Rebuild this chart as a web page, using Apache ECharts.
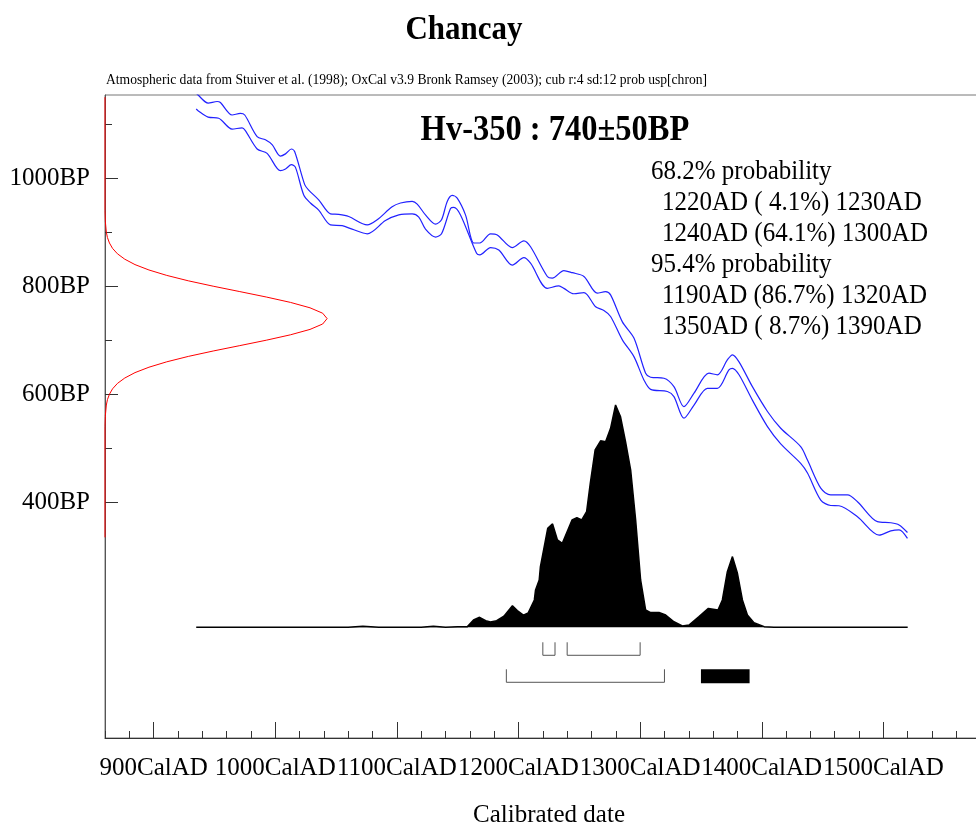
<!DOCTYPE html>
<html>
<head>
<meta charset="utf-8">
<script src="https://cdn.jsdelivr.net/npm/echarts@6/dist/echarts.min.js"></script>
<style>
  html, body { margin: 0; padding: 0; background: #fff; }
  #chart { width: 976px; height: 825px; }
</style>
</head>
<body>
<div id="chart"></div>
<script>
// calendar axis ticks (years AD) and BP axis ticks
var yearMajor = [900, 1000, 1100, 1200, 1300, 1400, 1500];
var bpMajor = [400, 600, 800, 1000];
var bpMinor = [500, 700, 900, 1100];

// calibration curve, +1 sigma and -1 sigma  [year AD, BP]
var calUpper = [[933,1162],[936.5,1154],[944.8,1139],[952.2,1142],[954.9,1140],[964.5,1117],[971.3,1120],[974.9,1117],
  [985.1,1077],[991.9,1071],[997.4,1062],[1004.2,1041],[1008.4,1045],[1013.3,1054],[1016,1049],[1024.2,988],
  [1027.5,978],[1035.7,960],[1045.4,934],[1052.2,933],[1060.4,929],[1075.6,913.5],[1083.8,923],[1096.1,947],
  [1103,954],[1112.6,957],[1116.7,952],[1123.5,932],[1131.8,915],[1136.7,923],[1141.4,957],[1145.5,968],
  [1149.6,963],[1156.4,932],[1163.3,880],[1168.2,880],[1177,897],[1182.5,895],[1194.9,871.5],[1204.4,884],
  [1209.9,873],[1223.7,818],[1227.8,815],[1237.3,829],[1244.2,825],[1253.8,818],[1264.8,787],[1271.6,790],
  [1275.7,784],[1285.4,734],[1294.9,704],[1304.5,639],[1308.6,631.5],[1319.6,629.6],[1327.8,614],[1336,577],
  [1344.3,602],[1356.6,639],[1363.5,636],[1371.7,663.5],[1375.9,673],[1381.3,660],[1392.3,614],[1404.7,568],
  [1415.6,537],[1432,503],[1437.6,478],[1448.5,426],[1456.7,413.5],[1470.5,413.5],[1478.7,401],[1495.1,364],
  [1506.1,362],[1512.9,358],[1519.8,344]];
var calLower = [[935,1128],[936.5,1125],[944.8,1113],[953.5,1111],[964.5,1091],[972.7,1093],[975.4,1088],[985.1,1054],
  [993.3,1046],[1004.2,1014],[1008.4,1017],[1013.3,1025],[1016.6,1020],[1023.4,969],[1028.9,954],[1035.7,941],
  [1045.4,913.5],[1055,912],[1063.2,905.6],[1075.6,897],[1090.6,921.5],[1101.6,932],[1112.6,934],[1118,928],
  [1123.5,905.6],[1131.8,891],[1136.7,897],[1144.1,944],[1146.8,946],[1152.3,932],[1165.5,861],[1168.2,858],
  [1177,871.5],[1183.8,867],[1194.9,839],[1204.4,853],[1209.9,842.6],[1223.7,796],[1233.2,800.6],[1237.3,796],
  [1245.5,786],[1253.8,788],[1263.4,762],[1270.2,755],[1275.7,744],[1285.4,700.6],[1294.9,669.6],[1303.1,626.5],
  [1308.6,609],[1322.4,605],[1327.8,595.6],[1336,555.6],[1344.3,580],[1355.3,611],[1363.5,611],[1373,645],
  [1375.9,648],[1381.3,636],[1392.3,589],[1404.7,540],[1415.6,508],[1432,472],[1437.6,454],[1448.5,404],
  [1456.7,394],[1463.5,393.5],[1478.7,373],[1496.5,339],[1506.1,347],[1512.9,349],[1519.8,333]];

// radiocarbon date Hv-350 : 740±50BP, relative probability vs BP
var dateProb = [[0,335],[0,540],[0.0015,560],[0.006,580],[0.011,590],[0.020,600],[0.034,610],[0.056,620],
  [0.089,630],[0.135,640],[0.198,650],[0.278,660],[0.375,670],[0.487,680],[0.607,690],[0.726,700],[0.835,710],
  [0.923,720],[0.980,730],[1,740],[0.980,750],[0.923,760],[0.835,770],[0.726,780],[0.607,790],[0.487,800],
  [0.375,810],[0.278,820],[0.198,830],[0.135,840],[0.089,850],[0.056,860],[0.034,870],[0.020,880],[0.011,890],
  [0.006,900],[0.0015,920],[0,940],[0,1150]];

// calibrated distribution  [year AD, relative probability]
var calProb = [[935,0],[1060,0],[1072,0.005],[1085,0],[1120,0],[1130,0.005],[1140,0],[1150,0.002],[1158,0.003],
  [1163,0.033],[1168,0.045],[1173,0.03],[1177,0.024],[1182,0.03],[1188,0.05],[1195,0.097],[1199,0.075],
  [1204,0.055],[1208,0.065],[1213,0.123],[1214,0.168],[1217,0.213],[1218,0.273],[1224,0.445],[1228,0.465],
  [1232,0.393],[1236,0.378],[1244,0.483],[1248,0.493],[1252,0.483],[1256,0.52],[1259,0.648],[1263,0.798],
  [1267.5,0.839],[1271.6,0.835],[1275.7,0.895],[1279.8,1],[1283.9,0.947],[1288,0.835],[1292.2,0.708],
  [1296.3,0.483],[1300.4,0.213],[1304.5,0.078],[1308.6,0.066],[1315.5,0.067],[1321,0.055],[1327.8,0.025],
  [1334.7,0.006],[1340.2,0.01],[1348.4,0.048],[1356.1,0.085],[1364,0.078],[1367.6,0.123],[1371.7,0.25],
  [1375.9,0.318],[1380,0.243],[1384.1,0.123],[1388.2,0.055],[1393.6,0.021],[1402,0.003],[1410,0],[1520,0]];

// ranges  [from, to, percent]
var range68 = [[1220, 1230, 4.1], [1240, 1300, 64.1]];
var range95 = [[1190, 1320, 86.7], [1350, 1390, 8.7]];

var serif = '"Liberation Serif", "Times New Roman", serif';

function rangeLine(r) {
    var p = r[2].toFixed(1);
    if (p.length < 4) p = ' ' + p;
    return r[0] + 'AD (' + p + '%) ' + r[1] + 'AD';
}

var probLines = [{t: '68.2% probability', indent: false}]
    .concat(range68.map(function (r) { return {t: rangeLine(r), indent: true}; }))
    .concat([{t: '95.4% probability', indent: false}])
    .concat(range95.map(function (r) { return {t: rangeLine(r), indent: true}; }));

// the original text is drawn slightly taller than wide
var graphics = [
    {type: 'text', x: 464, y: 30, scaleY: 1.12, style: {text: 'Chancay', font: 'bold 31px ' + serif, fill: '#000', textAlign: 'center', textVerticalAlign: 'middle'}},
    {type: 'text', x: 106, y: 80, scaleY: 1.1, style: {text: 'Atmospheric data from Stuiver et al. (1998); OxCal v3.9 Bronk Ramsey (2003); cub r:4 sd:12 prob usp[chron]', font: '13.6px ' + serif, fill: '#000', textVerticalAlign: 'middle'}},
    {type: 'text', x: 555, y: 131, scaleY: 1.1, style: {text: 'Hv-350 : 740\u00b150BP', font: 'bold 32.5px ' + serif, fill: '#000', textAlign: 'center', textVerticalAlign: 'middle'}},
    {type: 'text', x: 549, y: 815, style: {text: 'Calibrated date', font: '25px ' + serif, fill: '#000', textAlign: 'center', textVerticalAlign: 'middle'}}
];
probLines.forEach(function (l, i) {
    graphics.push({type: 'text', x: l.indent ? 662 : 651, y: 172 + i * 31, scaleY: 1.1,
        style: {text: l.t, font: '25px ' + serif, fill: '#000', textVerticalAlign: 'middle'}});
});

var chart = echarts.init(document.getElementById('chart'));

function bracketRender(top, bottom, fillIndex) {
    return function (params, api) {
        var s = api.coord([api.value(0), 0]);
        var e = api.coord([api.value(1), 0]);
        if (params.dataIndex === fillIndex) {
            return {type: 'rect', shape: {x: s[0], y: s[1] + top, width: e[0] - s[0], height: bottom - top + 1},
                style: {fill: '#000'}};
        }
        return {type: 'polyline',
            shape: {points: [[s[0], s[1] + top], [s[0], s[1] + bottom], [e[0], e[1] + bottom], [e[0], e[1] + top]]},
            style: {stroke: '#555', fill: null, lineWidth: 1}};
    };
}

var option = {
    animation: false,
    backgroundColor: '#fff',
    grid: {left: 105, right: -29, top: 95, bottom: 87, show: true, borderColor: '#777', borderWidth: 1,
        containLabel: false, outerBoundsMode: 'none'},
    xAxis: [
        {
            type: 'value', min: 860, max: 1600, position: 'bottom',
            axisLine: {onZero: false, lineStyle: {color: '#333', width: 1}},
            axisTick: {inside: true, length: 16, customValues: yearMajor, lineStyle: {color: '#333'}},
            axisLabel: {customValues: yearMajor, formatter: function (v) { return v + 'CalAD'; },
                margin: 18, fontSize: 25, fontFamily: serif, color: '#000', hideOverlap: false},
            splitLine: {show: false}
        },
        {
            type: 'value', min: 860, max: 1600, interval: 20, position: 'bottom',
            axisLine: {show: false, onZero: false},
            axisTick: {inside: true, length: 7, lineStyle: {color: '#333'}},
            axisLabel: {show: false},
            splitLine: {show: false}
        },
        {type: 'value', min: 0, max: 4.052, show: false}
    ],
    yAxis: [
        {
            type: 'value', min: -36.5, max: 1154, position: 'left',
            axisLine: {onZero: false, lineStyle: {color: '#555', width: 1}},
            axisTick: {inside: true, length: 13, customValues: bpMajor, lineStyle: {color: '#333'}},
            axisLabel: {customValues: bpMajor, formatter: function (v) { return v + 'BP'; },
                margin: 15, fontSize: 25, fontFamily: serif, color: '#000'},
            splitLine: {show: false}
        },
        {
            type: 'value', min: -36.5, max: 1154, position: 'left',
            axisLine: {show: false, onZero: false},
            axisTick: {inside: true, length: 7, customValues: bpMinor, lineStyle: {color: '#333'}},
            axisLabel: {show: false},
            splitLine: {show: false}
        },
        {type: 'value', min: -0.498, max: 2.3945, show: false}
    ],
    graphic: graphics,
    series: [
        {
            name: 'cal+', type: 'line', xAxisIndex: 0, yAxisIndex: 0, data: calUpper,
            symbol: 'none', smooth: 0.3, lineStyle: {color: '#2222ff', width: 1.2}
        },
        {
            name: 'cal-', type: 'line', xAxisIndex: 0, yAxisIndex: 0, data: calLower,
            symbol: 'none', smooth: 0.3, lineStyle: {color: '#2222ff', width: 1.2}
        },
        {
            name: 'date', type: 'line', xAxisIndex: 2, yAxisIndex: 0, data: dateProb,
            symbol: 'none', lineStyle: {color: '#ff0000', width: 1}, z: 5
        },
        {
            name: 'calibrated', type: 'line', xAxisIndex: 0, yAxisIndex: 2, data: calProb,
            symbol: 'none', lineStyle: {color: '#000', width: 1.5},
            areaStyle: {color: '#000', opacity: 1}
        },
        {
            name: '68.2%', type: 'custom', xAxisIndex: 0, yAxisIndex: 2, data: range68,
            encode: {x: [0, 1]}, renderItem: bracketRender(15, 28, -1)
        },
        {
            name: '95.4%', type: 'custom', xAxisIndex: 0, yAxisIndex: 2, data: range95,
            encode: {x: [0, 1]}, renderItem: bracketRender(42, 55, 1)
        }
    ]
};

chart.setOption(option);
</script>
</body>
</html>
